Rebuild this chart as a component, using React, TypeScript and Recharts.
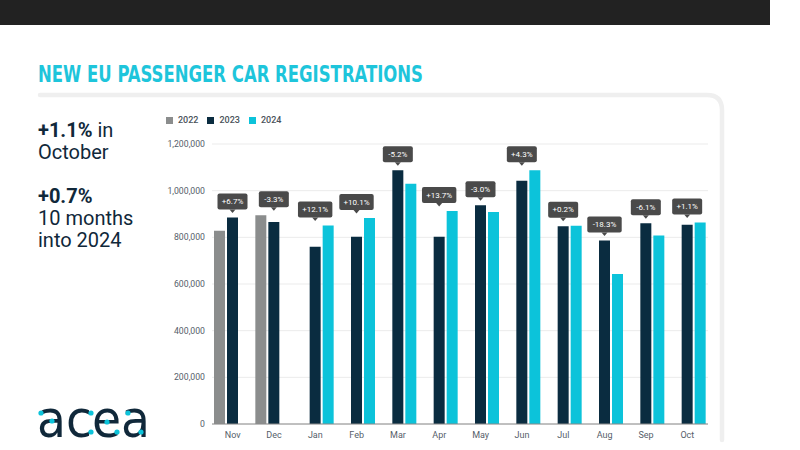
import { BarChart, Bar, XAxis, YAxis, CartesianGrid, Legend, LabelList } from "recharts";

const months = ["Nov", "Dec", "Jan", "Feb", "Mar", "Apr", "May", "Jun", "Jul", "Aug", "Sep", "Oct"];
const reg2022 = [828000, 895000, null, null, null, null, null, null, null, null, null, null];
const reg2023 = [885000, 866000, 760000, 803000, 1087000, 802000, 938000, 1042000, 848000, 786000, 860000, 854000];
const reg2024 = [null, null, 851000, 883000, 1030000, 913000, 909000, 1087000, 850000, 643000, 808000, 864000];
const changeLabels = ["+6.7%", "-3.3%", "+12.1%", "+10.1%", "-5.2%", "+13.7%", "-3.0%", "+4.3%", "+0.2%", "-18.3%", "-6.1%", "+1.1%"];
const yTicks = [0, 200000, 400000, 600000, 800000, 1000000, 1200000];

const GRAY = "#8b8d8d";
const NAVY = "#0a2c40";
const CYAN = "#0cc3da";
const FONT = "Roboto, 'Noto Sans', sans-serif";
const TICK = "#56606a";

const data = months.map((m, i) => ({
  month: m,
  y2022: reg2022[i],
  y2023: reg2023[i],
  y2024: reg2024[i],
}));

const series = [
  { key: "y2022", name: "2022", color: GRAY },
  { key: "y2023", name: "2023", color: NAVY },
  { key: "y2024", name: "2024", color: CYAN },
];

function ChangeLabel(props: any) {
  const vb = props.viewBox ?? props;
  const { x, y, width, height } = vb;
  const i = months.indexOf(props.value);
  if (i < 0 || height == null) return null;
  const v23 = reg2023[i];
  const maxVal = Math.max(reg2022[i] ?? 0, v23, reg2024[i] ?? 0);
  const bottom = y + height;
  const top = bottom - (maxVal * height) / v23;
  const cx = x + width / 2;
  const text = changeLabels[i];
  const w = text.length * 4.4 + 8;
  const h = 16;
  const by = top - 8 - h;
  return (
    <g>
      <rect x={cx - w / 2} y={by} width={w} height={h} rx={2} fill="#4a4a4a" />
      <path d={`M${cx - 3},${by + h} L${cx + 3},${by + h} L${cx},${by + h + 3.5} Z`} fill="#4a4a4a" />
      <text x={cx} y={by + h / 2 + 2.8} textAnchor="middle" fill="#ffffff" fontSize={8} fontFamily={FONT}>
        {text}
      </text>
    </g>
  );
}

function LegendContent() {
  return (
    <div style={{ display: "flex", gap: 9, fontFamily: FONT, fontSize: 9, color: "#4a525a", fontWeight: 500 }}>
      {series.map((s) => (
        <div key={s.key} style={{ display: "flex", alignItems: "center", gap: 5 }}>
          <div style={{ width: 7, height: 7, background: s.color }} />
          <span>{s.name}</span>
        </div>
      ))}
    </div>
  );
}

const logoDots = [
  [41, 413], [52, 421], [91, 413], [91, 432], [107, 422], [117, 432], [128, 413], [141, 432],
];

export default function App() {
  return (
    <div style={{ position: "absolute", left: 0, top: 0, width: 800, height: 450, background: "#fff", overflow: "hidden" }}>
      <svg width={800} height={450} style={{ position: "absolute", left: 0, top: 0 }}>
        <rect x={0} y={0} width={770} height={25} fill="#222222" />
        <text x={38} y={82} fill="#1ec5db" fontSize={23} fontWeight={700} fontFamily="'Liberation Sans Narrow', 'DejaVu Sans Condensed', sans-serif" textLength={385} lengthAdjust="spacingAndGlyphs">
          NEW EU PASSENGER CAR REGISTRATIONS
        </text>
        <path d="M 40 95 H 707 Q 722 95 722 110 V 440" fill="none" stroke="#efefef" strokeWidth={4.5} strokeLinecap="round" />
        <text x={37} y={437} fill="#10283a" fontSize={52} fontFamily="'DejaVu Sans', sans-serif" textLength={113} lengthAdjust="spacingAndGlyphs">
          acea
        </text>
        {logoDots.map(([cx, cy], i) => (
          <circle key={i} cx={cx} cy={cy} r={2.6} fill={CYAN} />
        ))}
      </svg>
      <div style={{ position: "absolute", left: 38, top: 119, fontFamily: FONT, fontSize: 20, lineHeight: "22px", color: "#10283a" }}>
        <div><b>+1.1%</b> in</div>
        <div>October</div>
        <div style={{ marginTop: 22 }}><b>+0.7%</b></div>
        <div>10 months</div>
        <div>into 2024</div>
      </div>
      <div style={{ position: "absolute", left: 150, top: 100 }}>
        <BarChart width={570} height={345} data={data} margin={{ top: 34, right: 12, bottom: 0, left: 10 }} barSize={11} barGap={2}>
          <CartesianGrid vertical={false} stroke="#ebebeb" />
          <XAxis dataKey="month" tickLine={false} axisLine={{ stroke: "#8a8a8a" }} tickSize={0} tickMargin={8} height={21} interval={0} tick={{ fontSize: 9, fill: TICK, fontFamily: FONT }} />
          <YAxis domain={[0, 1200000]} ticks={yTicks} width={52} axisLine={false} tickLine={false} tickSize={0} tickMargin={7} tick={{ fontSize: 8.7, fill: TICK, fontFamily: FONT }} tickFormatter={(v: number) => v.toLocaleString("en-US")} />
          <Legend verticalAlign="top" content={<LegendContent />} wrapperStyle={{ position: "absolute", left: 16, top: 15, width: "auto" }} />
          {series.map((s) => (
            <Bar key={s.key} dataKey={s.key} name={s.name} fill={s.color} isAnimationActive={false}>
              {s.key === "y2023" && <LabelList dataKey="month" content={ChangeLabel} />}
            </Bar>
          ))}
        </BarChart>
      </div>
    </div>
  );
}
